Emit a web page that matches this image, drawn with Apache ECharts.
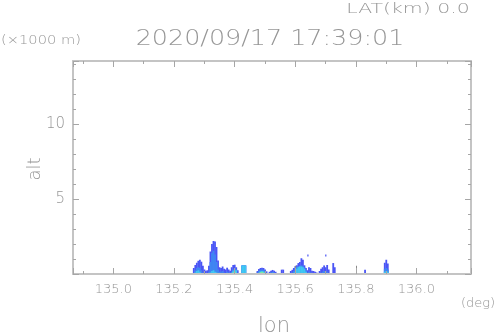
<!DOCTYPE html>
<html><head><meta charset="utf-8">
<script src="https://cdn.jsdelivr.net/npm/echarts@6/dist/echarts.min.js"></script>
<style>html,body{margin:0;padding:0;background:#fff}#c{width:498px;height:336px}</style>
</head><body><div id="c"></div>
<script>
// ---- text ----
const titleText = '2020/09/17 17:39:01';
const latText = 'LAT(km) 0.0';
const yUnitText = '(×1000 m)';
const xUnitText = '(deg)';
const xName = 'lon';
const yName = 'alt';
// ---- axes ----
const lonRange = [134.867, 136.18];
const altRange = [0, 14.2];
const altTickStep = 5;
// ---- echo columns (lon in deg, tops in km) ----
const colStep = 0.005;
const colLon = [135.265,135.270,135.275,135.280,135.285,135.290,135.295,135.300,135.305,135.310,
  135.315,135.320,135.325,135.330,135.335,135.340,135.345,135.350,135.355,135.360,
  135.365,135.370,135.375,135.380,135.385,135.390,135.395,135.400,135.405,135.410,
  135.425,135.430,135.435,
  135.475,135.480,135.485,135.490,135.495,135.500,135.505,
  135.515,135.520,135.525,135.530,135.535,
  135.555,135.560,
  135.585,135.590,135.595,135.600,135.605,135.610,135.615,135.620,135.625,135.630,
  135.635,135.640,135.645,135.650,135.655,135.660,135.665,135.670,
  135.680,135.685,135.690,135.695,135.700,135.705,135.710,
  135.725,135.730,
  135.830,
  135.895,135.900,135.905];
const level1Top = [0.40,0.60,0.75,0.88,0.95,0.82,0.55,0.30,0.22,0.25,
  0.55,1.50,2.00,2.20,2.17,1.80,0.90,0.45,0.40,0.50,
  0.35,0.30,0.42,0.30,0.22,0.45,0.60,0.62,0.45,0.25,
  0.57,0.57,0.57,
  0.20,0.33,0.40,0.42,0.40,0.30,0.18,
  0.15,0.22,0.27,0.22,0.15,
  0.29,0.29,
  0.20,0.28,0.40,0.52,0.58,0.73,0.80,1.05,0.95,0.58,
  0.40,0.25,0.45,0.40,0.22,0.20,0.15,0.10,
  0.20,0.35,0.45,0.57,0.45,0.60,0.30,
  0.73,0.45,
  0.29,
  0.75,0.95,0.70];
const level2Top = [0,0.25,0.40,0.45,0.40,0.25,0.10,0,0,0,
  0.15,0.80,1.40,1.55,1.30,0.80,0.30,0.15,0.15,0.20,
  0.10,0,0.15,0.10,0,0.15,0.30,0.35,0.30,0,
  0.57,0.57,0.57,
  0.10,0.20,0.28,0.30,0.28,0.18,0.08,
  0,0.10,0.15,0.10,0,
  0,0,
  0,0.10,0.20,0.40,0.48,0.52,0.55,0.58,0.55,0.45,
  0.25,0.08,0.15,0.10,0,0,0,0,
  0,0.08,0.15,0.20,0.15,0.15,0,
  0,0,
  0,
  0.35,0.40,0.30];
const level3Top = [0,0.10,0.20,0.25,0.15,0,0,0,0,0,
  0,0.10,0.20,0.25,0.15,0.10,0,0,0,0,
  0,0,0,0,0,0.08,0.22,0.28,0.25,0,
  0.57,0.57,0.57,
  0,0.08,0.18,0.20,0.18,0.08,0,
  0,0,0.08,0,0,
  0,0,
  0,0,0,0.15,0.35,0.45,0.50,0.50,0.45,0.35,
  0.15,0,0,0,0,0,0,0,
  0,0,0,0,0,0,0,
  0,0,
  0,
  0.15,0.20,0.15];
const level4Top = [0,0,0,0,0,0,0,0,0,0,
  0,0,0,0,0,0,0,0,0,0,
  0,0,0,0,0,0,0.10,0.15,0,0,
  0,0,0,
  0,0,0.12,0.15,0.10,0,0,
  0,0,0,0,0,
  0,0,
  0,0,0,0,0,0,0,0,0,0,
  0,0,0,0,0,0,0,0,
  0,0,0,0,0,0,0,
  0,0,
  0,
  0,0,0];
// isolated cells: lon, bottom, top
const cellLon = [135.642, 135.701];
const cellBottom = [1.16, 1.16];
const cellTop = [1.30, 1.30];
// terrain spikes: lon, top
const terrainLon = [135.599, 135.801];
const terrainTop = [0.55, 0.55];

const levelColors = ['#4a55f5', '#3f86f2', '#3fc8f2', '#7df0a0'];
const textColor = '#969696';
const lineColor = '#c4c4c4';
const tickColor = '#a6a6a6';
const fontFam = 'DejaVu Sans';
const fontW = 200;

const chart = echarts.init(document.getElementById('c'), null, {renderer:'canvas'});

function colSeries(tops, color, z) {
  return {
    type: 'custom', xAxisIndex: 0, yAxisIndex: 0, z: z, silent: true,
    data: colLon.map((l, i) => [l, tops[i]]),
    renderItem: function (params, api) {
      const lon = api.value(0), top = api.value(1);
      if (!top) return null;
      const p0 = api.coord([lon - colStep / 2, 0]);
      const p1 = api.coord([lon + colStep / 2, top]);
      return {type: 'rect', shape: {x: p0[0], y: p1[1], width: p1[0] - p0[0] + 0.3, height: p0[1] - p1[1]},
        style: {fill: color}};
    }
  };
}

const axisCommon = {
  axisLine: {show: true, onZero: false, lineStyle: {color: lineColor, width: 2}},
  axisTick: {show: true, inside: true, length: 6, lineStyle: {color: tickColor, width: 1}},
  minorTick: {show: true, length: 3, lineStyle: {color: tickColor, width: 1}},
  splitLine: {show: false},
  z: 10
};

const series = [
  colSeries(level1Top, levelColors[0], 2),
  colSeries(level2Top, levelColors[1], 3),
  colSeries(level3Top, levelColors[2], 4),
  colSeries(level4Top, levelColors[3], 5),
  {
    type: 'custom', xAxisIndex: 0, yAxisIndex: 0, z: 6, silent: true,
    data: cellLon.map((l, i) => [l, cellBottom[i], cellTop[i]]),
    renderItem: function (params, api) {
      const p0 = api.coord([api.value(0) - 0.002, api.value(1)]);
      const p1 = api.coord([api.value(0) + 0.002, api.value(2)]);
      return {type: 'rect', shape: {x: p0[0], y: p1[1], width: p1[0] - p0[0], height: p0[1] - p1[1]},
        style: {fill: levelColors[0]}};
    }
  },
  {
    type: 'custom', xAxisIndex: 0, yAxisIndex: 0, z: 6, silent: true,
    data: terrainLon.map((l, i) => [l, terrainTop[i]]),
    renderItem: function (params, api) {
      const p0 = api.coord([api.value(0), 0]);
      const p1 = api.coord([api.value(0), api.value(1)]);
      const x = Math.round(p0[0]) + 0.5;
      return {type: 'line', shape: {x1: x, y1: p0[1], x2: x, y2: p1[1]},
        style: {stroke: '#8a8a8a', lineWidth: 1}};
    }
  }
];

const option = {
  animation: false,
  backgroundColor: '#ffffff',
  grid: {left: 73, right: 27, top: 61, bottom: 62, containLabel: false},
  xAxis: [
    Object.assign({}, axisCommon, {
      type: 'value', position: 'bottom', min: lonRange[0], max: lonRange[1], splitNumber: 6,
      minorTick: Object.assign({}, axisCommon.minorTick, {splitNumber: 2}),
      axisLabel: {show: true, margin: 9, color: textColor, fontSize: 13, fontFamily: fontFam, fontWeight: fontW,
        showMinLabel: false, showMaxLabel: false, formatter: v => v.toFixed(1)}
    }),
    Object.assign({}, axisCommon, {
      type: 'value', position: 'top', min: lonRange[0], max: lonRange[1], splitNumber: 6,
      minorTick: Object.assign({}, axisCommon.minorTick, {splitNumber: 2}),
      axisLabel: {show: false}
    })
  ],
  yAxis: [
    Object.assign({}, axisCommon, {
      type: 'value', position: 'left', min: altRange[0], max: altRange[1], interval: altTickStep,
      minorTick: Object.assign({}, axisCommon.minorTick, {splitNumber: 5}),
      axisLabel: {show: true, margin: 8, color: textColor, fontSize: 15, fontFamily: fontFam, fontWeight: fontW,
        showMinLabel: false, showMaxLabel: false}
    }),
    Object.assign({}, axisCommon, {
      type: 'value', position: 'right', min: altRange[0], max: altRange[1], interval: altTickStep,
      minorTick: Object.assign({}, axisCommon.minorTick, {splitNumber: 5}),
      axisLabel: {show: false}
    })
  ],
  graphic: [
    {type: 'text', x: 270, y: 40, scaleX: 1.21, silent: true,
      style: {text: titleText, fontSize: 21, fontFamily: fontFam, fontWeight: fontW, fill: textColor, align: 'center', verticalAlign: 'middle'}},
    {type: 'text', x: 408, y: 9, scaleX: 1.46, silent: true,
      style: {text: latText, fontSize: 14, fontFamily: fontFam, fontWeight: fontW, fill: textColor, align: 'center', verticalAlign: 'middle'}},
    {type: 'text', x: 41, y: 41, scaleX: 1.22, silent: true,
      style: {text: yUnitText, fontSize: 12, fontFamily: fontFam, fontWeight: fontW, fill: textColor, align: 'center', verticalAlign: 'middle'}},
    {type: 'text', x: 478, y: 304, silent: true,
      style: {text: xUnitText, fontSize: 13, fontFamily: fontFam, fontWeight: fontW, fill: textColor, align: 'center', verticalAlign: 'middle'}},
    {type: 'text', x: 274, y: 327, silent: true,
      style: {text: xName, fontSize: 21, fontFamily: fontFam, fontWeight: fontW, fill: textColor, align: 'center', verticalAlign: 'middle'}},
    {type: 'text', x: 35, y: 169, rotation: Math.PI / 2, silent: true,
      style: {text: yName, fontSize: 18, fontFamily: fontFam, fontWeight: fontW, fill: textColor, align: 'center', verticalAlign: 'middle'}}
  ],
  series: series
};
chart.setOption(option);
</script></body></html>
